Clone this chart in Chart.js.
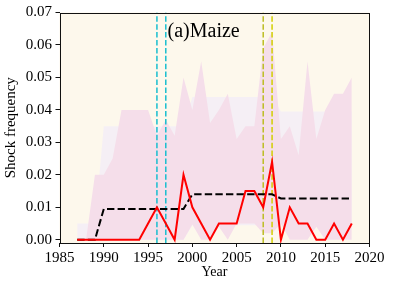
<!DOCTYPE html>
<html>
<head>
<meta charset="utf-8">
<script src="https://cdn.jsdelivr.net/npm/chart.js@4.4.7/dist/chart.umd.min.js"></script>
<style>
  html, body { margin: 0; padding: 0; background: #ffffff; }
  #wrap { width: 394px; height: 288px; }
</style>
</head>
<body>
<div id="wrap"><canvas id="shockChart" width="394" height="288"></canvas></div>
<script>
  var years = [1987, 1988, 1989, 1990, 1991, 1992, 1993, 1994, 1995, 1996,
               1997, 1998, 1999, 2000, 2001, 2002, 2003, 2004, 2005, 2006,
               2007, 2008, 2009, 2010, 2011, 2012, 2013, 2014, 2015, 2016,
               2017, 2018];
  // observed shock frequency (red)
  var shockFreq = [0, 0, 0, 0, 0, 0, 0, 0, 0.005, 0.01,
                   0.005, 0, 0.02, 0.01, 0.005, 0, 0.005, 0.005, 0.005, 0.015,
                   0.015, 0.01, 0.024, 0, 0.01, 0.005, 0.005, 0, 0, 0.005,
                   0, 0.005];
  // regime mean (black dashed)
  var regimeMean = [0, 0, 0, 0.0095, 0.0095, 0.0095, 0.0095, 0.0095, 0.0095, 0.0095,
                    0.0095, 0.0095, 0.0095, 0.014, 0.014, 0.014, 0.014, 0.014, 0.014, 0.014,
                    0.014, 0.014, 0.014, 0.0127, 0.0127, 0.0127, 0.0127, 0.0127, 0.0127, 0.0127,
                    0.0127, 0.0127];
  // pink band
  var pinkLow = [0, 0, 0, 0, 0, 0, 0, 0, 0, 0,
                 0, 0, 0, 0.0047, 0, 0, 0.004, 0, 0.005, 0.005,
                 0.005, 0.002, 0.002, 0.005, 0, 0, 0, 0.004, 0, 0,
                 0, 0];
  var pinkHigh = [0, 0, 0.02, 0.02, 0.025, 0.04, 0.04, 0.04, 0.04, 0.032,
                  0.037, 0.032, 0.05, 0.04, 0.055, 0.036, 0.04, 0.045, 0.031, 0.035,
                  0.035, 0.059, 0.064, 0.031, 0.035, 0.026, 0.055, 0.031, 0.04, 0.045,
                  0.045, 0.05];
  // lavender band
  var lavLow = [0, 0, 0, 0, 0, 0, 0, 0, 0, 0,
                0, 0, 0, 0.0045, 0.0045, 0.0045, 0.0045, 0.0045, 0.0045, 0.0045,
                0.0045, 0.0045, 0.0045, 0.0045, 0.0045, 0.0045, 0.0045, 0.0045, 0.0045, 0.0045,
                0.0045, 0.0045];
  var lavHigh = [0.005, 0.005, 0.005, 0.035, 0.035, 0.035, 0.035, 0.035, 0.035, 0.035,
                 0.035, 0.035, 0.035, 0.044, 0.044, 0.044, 0.044, 0.044, 0.044, 0.044,
                 0.044, 0.044, 0.044, 0.0395, 0.0395, 0.0395, 0.0395, 0.0395, 0.0395, 0.0395,
                 0.0395, 0.0395];

  var cyanYears = [1996, 1997];
  var yellowYears = [2008, 2009];
  var yellowColors = ["#bcbd22", "#d2cf00"];

  var xTicks = [1985, 1990, 1995, 2000, 2005, 2010, 2015, 2020];
  var yTicks = [0, 0.01, 0.02, 0.03, 0.04, 0.05, 0.06, 0.07];
  var xMin = 1985, xMax = 2020, yMin = -0.001, yMax = 0.07;

  var serif = "'Liberation Serif', 'DejaVu Serif', serif";

  function pts(arr) {
    return years.map(function (yr, i) { return { x: yr, y: arr[i] }; });
  }

  function vline(yr, color) {
    return {
      data: [{ x: yr, y: yMin }, { x: yr, y: yMax }],
      borderColor: color,
      borderWidth: 1.5,
      borderDash: [5.5, 2.4],
      pointRadius: 0,
      fill: false,
      order: 20,
    };
  }

  var datasets = [
    {
      label: "shock",
      data: pts(shockFreq),
      borderColor: "#ff0000",
      borderWidth: 2,
      pointRadius: 0,
      tension: 0,
      fill: false,
      order: 5,
    },
    {
      label: "mean",
      data: pts(regimeMean),
      borderColor: "#000000",
      borderWidth: 2,
      borderDash: [7.4, 3.2],
      pointRadius: 0,
      tension: 0,
      fill: false,
      order: 10,
    },
    {
      label: "pinkLow",
      data: pts(pinkLow),
      borderWidth: 0,
      borderColor: "rgba(0,0,0,0)",
      pointRadius: 0,
      fill: false,
      order: 50,
    },
    {
      label: "pinkHigh",
      data: pts(pinkHigh),
      borderWidth: 0,
      borderColor: "rgba(0,0,0,0)",
      backgroundColor: "rgb(245,222,234)",
      pointRadius: 0,
      fill: { target: 2, above: "rgb(245,222,234)", below: "rgb(245,222,234)" },
      order: 49,
    },
    {
      label: "lavLow",
      data: pts(lavLow),
      borderWidth: 0,
      borderColor: "rgba(0,0,0,0)",
      pointRadius: 0,
      fill: false,
      order: 60,
    },
    {
      label: "lavHigh",
      data: pts(lavHigh),
      borderWidth: 0,
      borderColor: "rgba(0,0,0,0)",
      backgroundColor: "rgb(245,239,245)",
      pointRadius: 0,
      fill: { target: 4, above: "rgb(245,239,245)", below: "rgb(245,239,245)" },
      order: 59,
    },
  ];
  cyanYears.forEach(function (yr) { datasets.push(vline(yr, "#17becf")); });
  yellowYears.forEach(function (yr, i) { datasets.push(vline(yr, yellowColors[i])); });

  var framePlugin = {
    id: "frame",
    beforeDraw: function (chart) {
      var a = chart.chartArea, ctx = chart.ctx;
      ctx.save();
      ctx.fillStyle = "#fdf8ec";
      ctx.fillRect(a.left, a.top, a.right - a.left, a.bottom - a.top);
      ctx.restore();
    },
    afterDraw: function (chart) {
      var a = chart.chartArea, ctx = chart.ctx;
      ctx.save();
      ctx.strokeStyle = "#111111";
      ctx.lineWidth = 1;
      ctx.strokeRect(Math.round(a.left) + 0.5, Math.round(a.top) + 0.5,
        Math.round(a.right - a.left) - 1, Math.round(a.bottom - a.top) - 1);
      // panel title
      var sx = chart.scales.x, sy = chart.scales.y;
      ctx.fillStyle = "#000000";
      ctx.font = "20px " + serif;
      ctx.textBaseline = "alphabetic";
      ctx.textAlign = "left";
      ctx.fillText("(a)Maize", sx.getPixelForValue(1997.2), sy.getPixelForValue(0.0624));
      ctx.restore();
    },
  };

  new Chart(document.getElementById("shockChart"), {
    type: "line",
    data: { datasets: datasets },
    plugins: [framePlugin],
    options: {
      responsive: false,
      animation: false,
      layout: { padding: { top: 11.5, right: 24.5, left: 0, bottom: 0 } },
      plugins: {
        legend: { display: false },
        tooltip: { enabled: false },
        filler: { drawTime: "beforeDatasetDraw" },
      },
      scales: {
        x: {
          type: "linear",
          min: xMin,
          max: xMax,
          afterBuildTicks: function (s) { s.ticks = xTicks.map(function (v) { return { value: v }; }); },
          afterFit: function (s) { s.height = 45; },
          grid: { drawOnChartArea: false, drawTicks: true, tickLength: 4, tickColor: "#111111" },
          border: { display: false },
          ticks: {
            color: "#000000",
            font: { family: serif, size: 15 },
            padding: 2,
            maxRotation: 0,
            autoSkip: false,
            callback: function (v) { return String(v); },
          },
          title: {
            display: true,
            text: "Year",
            color: "#000000",
            font: { family: serif, size: 14, lineHeight: 1.2 },
            padding: { top: 0, bottom: 7.5 },
          },
        },
        y: {
          type: "linear",
          min: yMin,
          max: yMax,
          afterBuildTicks: function (s) { s.ticks = yTicks.map(function (v) { return { value: v }; }); },
          afterFit: function (s) { s.width = 59.5; },
          grid: { drawOnChartArea: false, drawTicks: true, tickLength: 4, tickColor: "#111111" },
          border: { display: false },
          ticks: {
            color: "#000000",
            font: { family: serif, size: 15 },
            padding: 3.5,
            autoSkip: false,
            callback: function (v) { return Number(v).toFixed(2); },
          },
          title: {
            display: true,
            text: "Shock frequency",
            color: "#000000",
            font: { family: serif, size: 15, lineHeight: 1.2 },
            padding: { top: 2, bottom: 0 },
          },
        },
      },
    },
  });
</script>
</body>
</html>
